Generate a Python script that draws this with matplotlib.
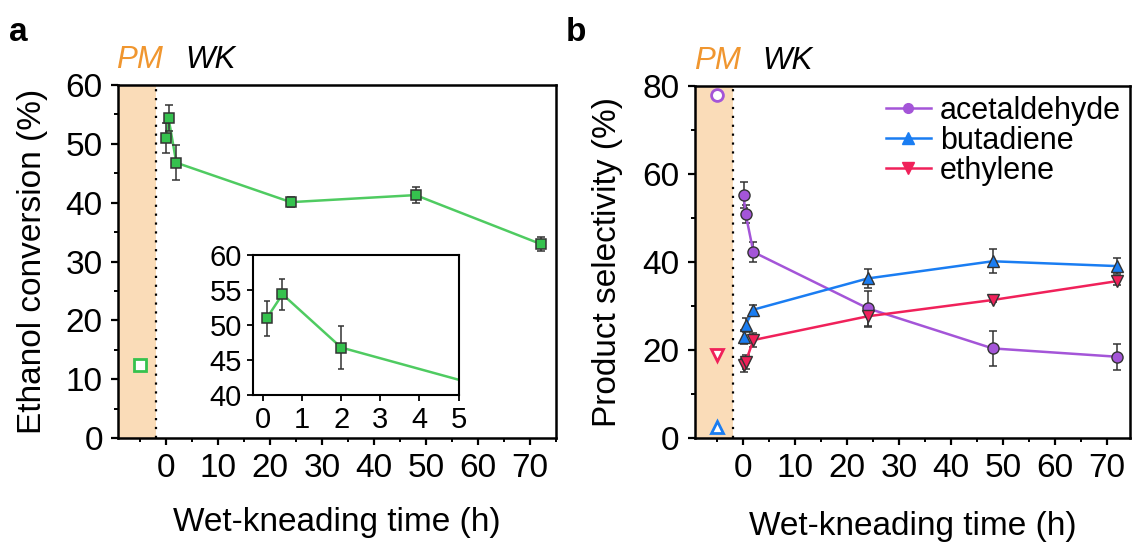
import numpy as np
import matplotlib
matplotlib.use('Agg')
import matplotlib.pyplot as plt
from matplotlib.ticker import MultipleLocator
from matplotlib.lines import Line2D

plt.rcParams['font.family'] = ['Liberation Sans', 'DejaVu Sans']
plt.rcParams['font.size'] = 24

# Panel a: ethanol conversion
wk_time = [0.1, 0.5, 2, 24, 48, 72]
conversion = [51.0, 54.4, 46.8, 40.1, 41.3, 33.0]
conversion_err = [2.5, 2.2, 3.0, 0.8, 1.3, 1.2]
pm_time = -5
pm_conversion = 12.5

# inset (first hours)
inset_time = [0.1, 0.5, 2]
inset_conv = [51.0, 54.4, 46.8]
inset_err = [2.5, 2.2, 3.0]
inset_line_time = [0.1, 0.5, 2, 5]
inset_line_conv = [51.0, 54.4, 46.8, 42.2]

# Panel b: product selectivity
sel_time = [0.1, 0.5, 2, 24, 48, 72]
acetaldehyde = [55.2, 51.0, 42.3, 29.5, 20.4, 18.5]
acetaldehyde_err = [3.0, 2.0, 2.3, 4.0, 4.0, 3.0]
butadiene = [23.0, 25.7, 29.2, 36.3, 40.2, 39.1]
butadiene_err = [1.5, 1.5, 1.0, 2.2, 2.7, 1.9]
ethylene = [16.6, 17.3, 22.3, 27.7, 31.4, 35.7]
ethylene_err = [1.5, 1.5, 1.5, 2.4, 0.5, 1.0]
pm_sel = {'acetaldehyde': 78.0, 'butadiene': 2.6, 'ethylene': 18.9}

green = '#35C24E'
green_line = '#4FCB61'
purple = '#A455D8'
blue = '#1A7DF2'
red = '#F0215A'
shade = '#FADCB8'
orange = '#F0962F'
edge = '#333333'


def style_axes(ax):
    for s in ax.spines.values():
        s.set_linewidth(1.8)
    ax.tick_params(which='major', direction='out', length=5, width=1.6, pad=6)
    ax.tick_params(which='minor', direction='out', length=2.6, width=1.4)


fig = plt.figure(figsize=(11.35, 5.45), dpi=100)

# ---- panel a ----
ax1 = fig.add_axes([0.104, 0.196, 0.386, 0.648])
ax1.axvspan(-9.2, -2, color=shade, lw=0, zorder=0)
ax1.axvline(-2, color='black', ls=(0, (1, 3)), lw=1.6, zorder=1)
ax1.plot(wk_time, conversion, color=green_line, lw=1.8, zorder=2)
ax1.errorbar(wk_time, conversion, yerr=conversion_err, fmt='s',
             ms=7.5, mfc=green, mec=edge, mew=1.1, ecolor=edge, elinewidth=1.1,
             capsize=3, capthick=1.1, zorder=3)
ax1.plot(pm_time, pm_conversion, 's', ms=8, mfc='white', mec=green, mew=2)
ax1.set_xlim(-9.2, 75)
ax1.set_ylim(0, 60)
ax1.set_xticks(np.arange(0, 71, 10))
ax1.set_yticks(np.arange(0, 61, 10))
ax1.xaxis.set_minor_locator(MultipleLocator(5))
ax1.yaxis.set_minor_locator(MultipleLocator(5))
ax1.set_xlabel('Wet-kneading time (h)')
ax1.set_ylabel('Ethanol conversion (%)')
ax1.xaxis.set_label_coords(0.5, -0.195)
ax1.yaxis.set_label_coords(-0.159, 0.5)
style_axes(ax1)
ax1.text(-5, 1.07, 'PM', transform=ax1.get_xaxis_transform(), color=orange,
         style='italic', ha='center', va='center', fontsize=22.5)
ax1.text(8.5, 1.07, 'WK', transform=ax1.get_xaxis_transform(), color='black',
         style='italic', ha='center', va='center', fontsize=22.5)

# inset
axi = fig.add_axes([0.223, 0.275, 0.181, 0.257])
axi.plot(inset_line_time, inset_line_conv, color=green_line, lw=1.8, zorder=2)
axi.errorbar(inset_time, inset_conv, yerr=inset_err, fmt='s', ms=6.5,
             mfc=green, mec=edge, mew=1.1, ecolor=edge, elinewidth=1.1,
             capsize=2.5, capthick=1.1, zorder=3)
axi.set_xlim(-0.25, 5)
axi.set_ylim(40, 60)
axi.set_xticks(range(0, 6))
axi.set_yticks(np.arange(40, 61, 5))
for s in axi.spines.values():
    s.set_linewidth(1.5)
axi.tick_params(direction='out', length=4, width=1.3, labelsize=21, pad=4)

# ---- panel b ----
ax2 = fig.add_axes([0.612, 0.196, 0.384, 0.646])
ax2.axvspan(-9.3, -2, color=shade, lw=0, zorder=0)
ax2.axvline(-2, color='black', ls=(0, (1, 3)), lw=1.6, zorder=1)
series = [('acetaldehyde', acetaldehyde, acetaldehyde_err, purple, 'o', 8),
          ('butadiene', butadiene, butadiene_err, blue, '^', 9),
          ('ethylene', ethylene, ethylene_err, red, 'v', 9)]
handles = []
for name, vals, err, col, mk, ms in series:
    ax2.errorbar(sel_time, vals, yerr=err, fmt='none', ecolor=edge,
                 elinewidth=1.1, capsize=3, capthick=1.1, zorder=2)
    ax2.plot(sel_time, vals, color=col, lw=1.8, marker=mk, ms=ms,
             mfc=col, mec=edge, mew=1.0, zorder=3)
    ax2.plot(pm_time, pm_sel[name], marker=mk, ms=8.5, mfc='white', mec=col,
             mew=2, ls='none', zorder=3)
    handles.append(Line2D([], [], color=col, lw=1.8, marker=mk, ms=ms - 1,
                          mfc=col, mec=col, label=name))
ax2.set_xlim(-9.3, 74.5)
ax2.set_ylim(0, 80)
ax2.set_xticks(np.arange(0, 71, 10))
ax2.set_yticks(np.arange(0, 81, 20))
ax2.xaxis.set_minor_locator(MultipleLocator(5))
ax2.yaxis.set_minor_locator(MultipleLocator(10))
ax2.set_xlabel('Wet-kneading time (h)')
ax2.set_ylabel('Product selectivity (%)')
ax2.xaxis.set_label_coords(0.5, -0.207)
ax2.yaxis.set_label_coords(-0.164, 0.5)
style_axes(ax2)
ax2.legend(handles=handles, loc='upper right', frameon=False, fontsize=22,
           handlelength=1.45, handletextpad=0.3, labelspacing=0.0,
           borderaxespad=0.22, borderpad=0.1)
ax2.text(-5, 1.07, 'PM', transform=ax2.get_xaxis_transform(), color=orange,
         style='italic', ha='center', va='center', fontsize=22.5)
ax2.text(8.5, 1.07, 'WK', transform=ax2.get_xaxis_transform(), color='black',
         style='italic', ha='center', va='center', fontsize=22.5)

fig.text(0.016, 0.94, 'a', fontsize=24, fontweight='bold', va='center', ha='center')
fig.text(0.507, 0.94, 'b', fontsize=24, fontweight='bold', va='center', ha='center')

fig.savefig('out.png', dpi=100)
